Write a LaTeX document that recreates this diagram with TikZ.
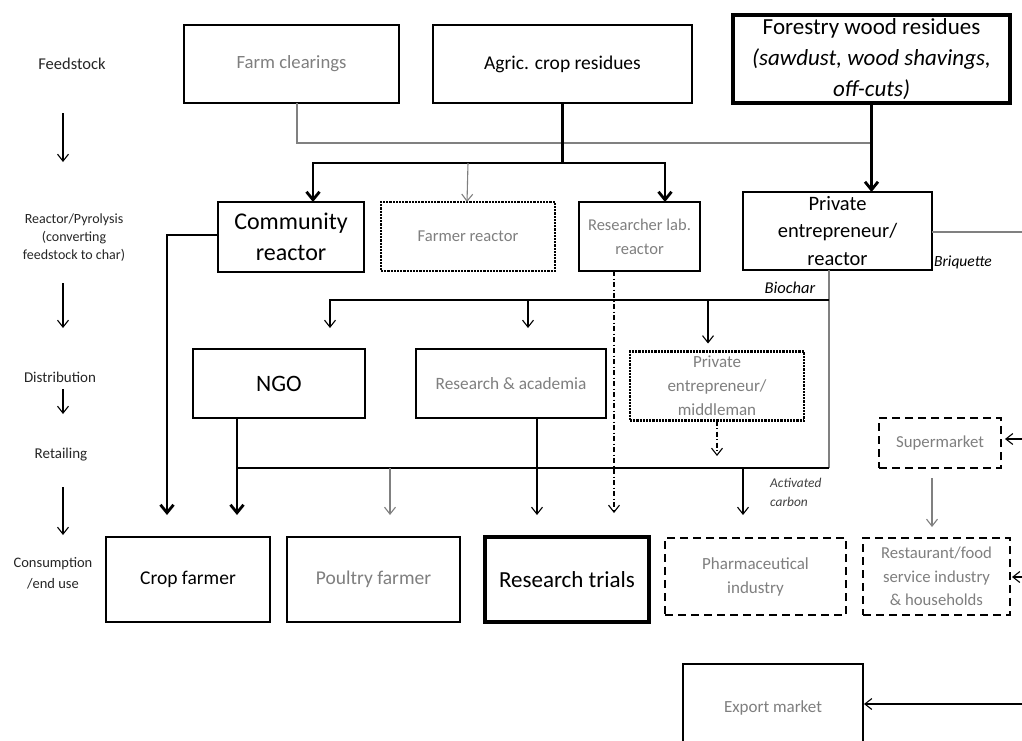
\documentclass[tikz,border=0pt]{standalone}
\usepackage{fontspec}
\setmainfont{Carlito}
\usetikzlibrary{arrows.meta,calc}
\definecolor{txtgray}{HTML}{7F7F7F}
\definecolor{lngray}{HTML}{808080}
\newcommand\myfs[2]{\fontsize{#1}{#2}\selectfont}
\begin{document}
\begin{tikzpicture}[x=1pt,y=-1pt,
  box/.style={draw=black, line width=2.3pt, inner sep=0pt, outer sep=0pt, align=center},
  tbox/.style={box, line width=2.8pt},
  dotbox/.style={box, line width=2.2pt, densely dotted},
  dashbox/.style={box, line width=2.4pt, dash pattern=on 8pt off 5pt},
  lab/.style={inner sep=0pt, align=center, text=black!85},
  arr/.style={line width=1.1pt, -{Straight Barb[length=7pt,width=11pt,line width=1.1pt]}},
  grayarr/.style={arr, draw=lngray},
  thkarr/.style={line width=2.8pt, -{Straight Barb[length=8pt,width=13pt,line width=2.8pt]}},
  thk/.style={line width=2.8pt},
  grayline/.style={line width=2pt, draw=lngray},
  thinl/.style={line width=1.1pt},
  dashdotarr/.style={arr, dash pattern=on 5pt off 2.5pt on 1pt off 2.5pt},
]
\clip (0,0) rectangle (1022,740);
\fill[white] (0,0) rectangle (1022,740);

% left column labels
\node[lab, font=\myfs{16.5}{19}] (lfeed) at (72,64) {Feedstock};
\node[lab, font=\myfs{14}{18}] (lreact) at (74,238) {Reactor/Pyrolysis\\(converting\\feedstock to char)};
\node[lab, font=\myfs{15}{18}] (ldist) at (60,377) {Distribution};
\node[lab, font=\myfs{15}{18}] (lret) at (61,455) {Retailing};
\node[lab, font=\myfs{14.5}{21}] (lcons) at (53,573) {Consumption\\/end use};
\coordinate (la1) at (63,113); \coordinate (lb1) at (63,162);
\coordinate (la2) at (63,283); \coordinate (lb2) at (63,328);
\coordinate (la3) at (63,389); \coordinate (lb3) at (63,414);
\coordinate (la4) at (63,487); \coordinate (lb4) at (63,535);
\draw[arr] (la1) -- (lb1);
\draw[arr] (la2) -- (lb2);
\draw[arr] (la3) -- (lb3);
\draw[arr] (la4) -- (lb4);

% feedstock row
\node[box, minimum width=215pt, minimum height=78pt, text=txtgray, font=\myfs{18.7}{22}] (farm) at (291.5,64) {Farm clearings};
\node[box, minimum width=259pt, minimum height=78pt, font=\myfs{19.5}{22}] (agric) at (562.5,64) {Agric. crop residues};
\node[box, line width=3.2pt, minimum width=277pt, minimum height=88pt, font=\myfs{23}{31}] (forest) at (871.5,59) {Forestry wood residues\\\textit{(sawdust, wood shavings,}\\\textit{off-cuts)}};

% reactor row
\node[tbox, minimum width=146pt, minimum height=70pt, font=\myfs{24}{31}] (community) at (291,237) {Community\\reactor};
\node[dotbox, minimum width=174pt, minimum height=69pt, text=txtgray, font=\myfs{16.6}{19}] (farmerr) at (468,236.5) {Farmer reactor};
\node[box, minimum width=121pt, minimum height=69pt, text=txtgray, font=\myfs{16.5}{24}] (labr) at (639.5,236.5) {Researcher lab.\\reactor};
\node[box, minimum width=189pt, minimum height=78pt, font=\myfs{20.5}{27.5}] (private) at (837.5,231) {Private\\entrepreneur/\\reactor};

% distribution row
\node[tbox, minimum width=172pt, minimum height=69pt, font=\myfs{23.5}{26}] (ngo) at (279,383.5) {NGO};
\node[tbox, minimum width=190pt, minimum height=69pt, text=txtgray, font=\myfs{17.3}{20}] (resac) at (511,383.5) {Research \& academia};
\node[dotbox, minimum width=174pt, minimum height=69pt, text=txtgray, font=\myfs{17}{24}] (middle) at (717,386) {Private\\entrepreneur/\\middleman};
\node[dashbox, minimum width=122pt, minimum height=50pt, text=txtgray, font=\myfs{16.8}{19}] (super) at (940,443) {Supermarket};

% consumption row
\node[box, minimum width=164pt, minimum height=85pt, font=\myfs{19.5}{22}] (crop) at (188,579.5) {Crop farmer};
\node[box, minimum width=173pt, minimum height=85pt, text=txtgray, font=\myfs{19.5}{22}] (poultry) at (373.5,579.5) {Poultry farmer};
\node[box, line width=4.4pt, minimum width=164pt, minimum height=85pt, font=\myfs{23}{26}] (trials) at (567,579.5) {Research trials};
\node[dashbox, minimum width=181pt, minimum height=77pt, text=txtgray, font=\myfs{17}{24}] (pharma) at (755.5,576.5) {Pharmaceutical\\industry};
\node[dashbox, minimum width=147pt, minimum height=77pt, text=txtgray, font=\myfs{16.7}{23.5}] (rest) at (936.5,576.5) {Restaurant/food\\service industry\\\& households};
\node[box, minimum width=180pt, minimum height=88pt, text=txtgray, font=\myfs{17}{20}] (export) at (773,708) {Export market};

% feedstock connectors
\draw[grayline] ([xshift=5.5pt]farm.south) |- ($(forest.south)+(0,40)$);
\draw[thkarr] (forest.south) -- (forest.south |- private.north);
\coordinate (j1) at (agric.south |- 0,163);
\coordinate (cin) at ([xshift=22pt]community.north);
\coordinate (lin) at ([xshift=25.5pt]labr.north);
\draw[thk] (agric.south) -- (j1);
\draw[thkarr] (j1) -| (cin);
\draw[thkarr] (j1) -| (lin);
\draw[grayarr] (farmerr.north |- j1) -- ([xshift=-1pt]farmerr.north);

% community to crop farmer
\coordinate (cfin1) at ([xshift=-21pt]crop.north);
\draw[thkarr, shorten >=22pt] ([yshift=2pt]community.west) -| (cfin1);

% researcher lab dash-dot
\coordinate (labout) at ([xshift=-25.5pt]labr.south);
\draw[dashdotarr, shorten >=24pt] (labout) -- (labout |- trials.north);

% biochar / briquette
\coordinate (pout) at ([xshift=-8.5pt]private.south);
\coordinate (bj) at (pout |- 0,300);
\coordinate (rj) at (pout |- 0,468);
\draw[grayline] (pout) -- (rj);
\coordinate (bq) at (1022,232);
\draw[grayline] (private.east |- bq) -- (bq);
\node[font=\myfs{15.5}{19}\itshape, anchor=west, inner sep=0pt] (briq) at (934,262) {Briquette};
\node[font=\myfs{16.5}{19}\itshape, inner sep=0pt] (biolab) at (790,288) {Biochar};

\coordinate (ngoin) at ([xshift=51pt]ngo.north);
\coordinate (resin) at ([xshift=17pt]resac.north);
\coordinate (midin) at ([xshift=-9pt]middle.north);
\draw[arr, shorten >=21pt] (bj) -| (ngoin);
\draw[arr, shorten >=21pt] (resin |- bj) -- (resin);
\draw[arr, shorten >=8pt] (midin |- bj) -- (midin);

% middleman dash-dot
\coordinate (mdend) at (middle.south |- 0,456);
\draw[dashdotarr] (middle.south) -- (mdend);

% retail line
\coordinate (ngoout) at ([xshift=-42pt]ngo.south);
\draw[thinl] (ngoout |- rj) -- (rj);
\draw[thkarr, shorten >=22pt] (ngoout) -- (ngoout |- crop.north);
\coordinate (resout) at ([xshift=26pt]resac.south);
\draw[arr, shorten >=22pt] (resout) -- (resout |- trials.north);
\coordinate (poin) at ([xshift=16.5pt]poultry.north);
\draw[grayarr, shorten >=22pt] (poin |- rj) -- (poin);
\coordinate (phin) at ([xshift=-12.5pt]pharma.north);
\draw[arr, shorten >=23pt] (phin |- rj) -- (phin);
\node[font=\myfs{13.4}{19}\itshape, text=black!75, anchor=west, align=left, inner sep=0pt] (aclab) at (770,492) {Activated\\carbon};

% supermarket and right-side inputs
\coordinate (smr) at (1022,439);
\draw[arr, shorten >=4pt] (smr) -- (smr -| super.east);
\coordinate (sout) at ([xshift=-8pt]super.south);
\draw[grayarr, shorten <=10pt, shorten >=11pt] (sout) -- (sout |- rest.north);
\coordinate (rr) at (1022,577);
\draw[arr, shorten >=2pt] (rr) -- (rr -| rest.east);
\coordinate (er) at (1022,704);
\draw[arr, shorten >=1pt] (er) -- (er -| export.east);
\end{tikzpicture}
\end{document}
